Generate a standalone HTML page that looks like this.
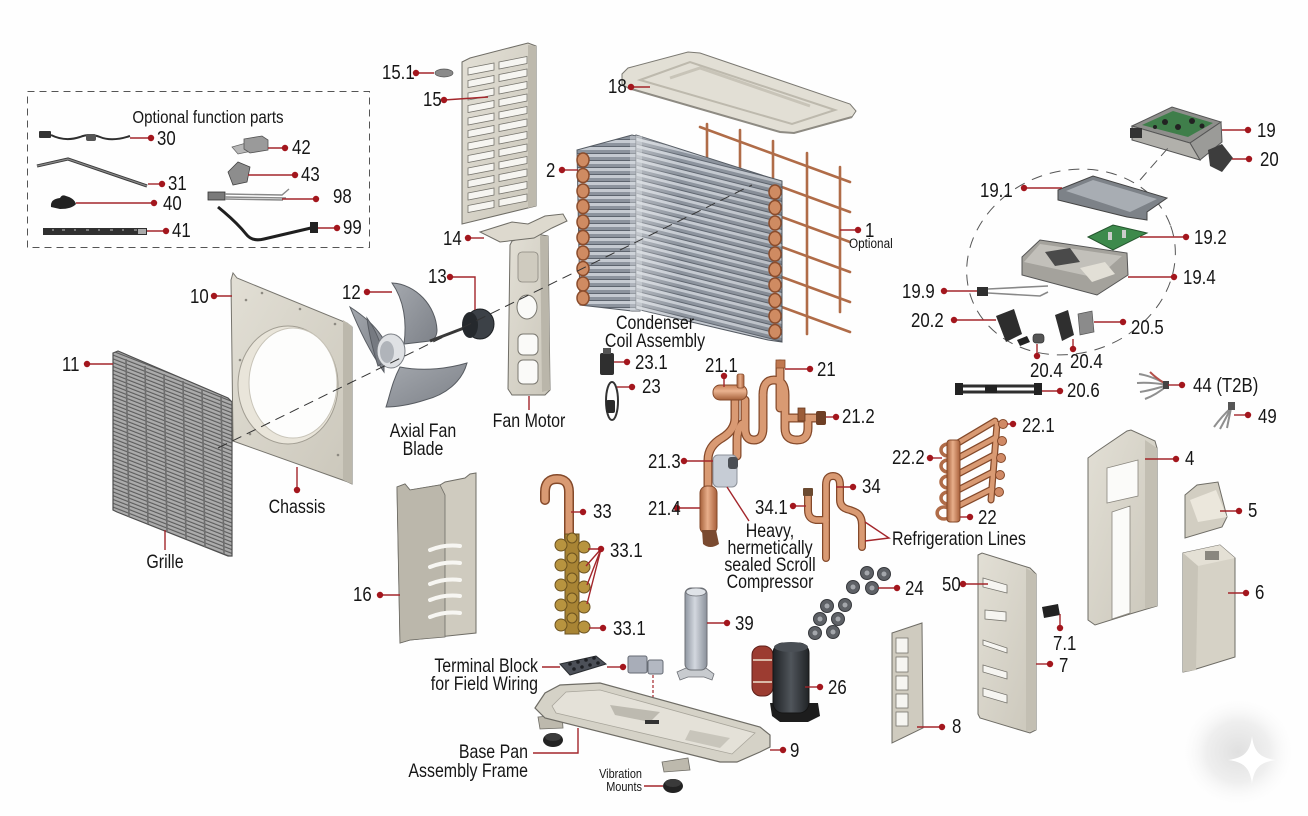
<!DOCTYPE html>
<html><head><meta charset="utf-8">
<style>
html,body{margin:0;padding:0;background:#fefefe;}
svg{display:block}
text{font-family:"Liberation Sans",Arial,sans-serif;fill:#161616;transform-box:fill-box;transform-origin:0% 50%;transform:scaleX(.84)}
text.m{text-anchor:middle;transform-origin:50% 50%}
text.e{text-anchor:end;transform-origin:100% 50%}
.n{font-size:20px}
.t{font-size:19px}
.l{stroke:#a3262b;stroke-width:1.4;fill:none}
.d{fill:#a3161d}
.bp{stroke:#6f6d66;stroke-width:1}
.sl{fill:#f6f5f1;stroke:#77756e;stroke-width:.8}
</style></head><body>
<svg width="1308" height="816" viewBox="0 0 1308 816" xmlns="http://www.w3.org/2000/svg">
<defs>
<linearGradient id="beige" x1="0" y1="0" x2="1" y2="1"><stop offset="0" stop-color="#e2dfd5"/><stop offset="1" stop-color="#cbc7bb"/></linearGradient>
<linearGradient id="cuH" x1="0" y1="0" x2="1" y2="0"><stop offset="0" stop-color="#a5603a"/><stop offset=".45" stop-color="#e8ae8a"/><stop offset="1" stop-color="#a85f3a"/></linearGradient>
<linearGradient id="cuV" x1="0" y1="0" x2="0" y2="1"><stop offset="0" stop-color="#c98058"/><stop offset=".4" stop-color="#eab390"/><stop offset="1" stop-color="#a5603a"/></linearGradient>
<linearGradient id="silver" x1="0" y1="0" x2="1" y2="0"><stop offset="0" stop-color="#8f96a1"/><stop offset=".45" stop-color="#d3d8df"/><stop offset="1" stop-color="#8a909a"/></linearGradient>
<linearGradient id="blk" x1="0" y1="0" x2="1" y2="0"><stop offset="0" stop-color="#1e2124"/><stop offset=".5" stop-color="#50555b"/><stop offset="1" stop-color="#202326"/></linearGradient>
<linearGradient id="coilhl" x1="0" y1="0" x2="1" y2="0"><stop offset="0" stop-color="#fff" stop-opacity=".35"/><stop offset=".3" stop-color="#fff" stop-opacity="0"/><stop offset="1" stop-color="#000" stop-opacity=".08"/></linearGradient>
<linearGradient id="fanG" x1="0" y1="0" x2="1" y2="1"><stop offset="0" stop-color="#a4a8ae"/><stop offset="1" stop-color="#7d8188"/></linearGradient>
<radialGradient id="wm" cx=".5" cy=".5" r=".5"><stop offset="0" stop-color="#e0e0e0"/><stop offset=".55" stop-color="#efefef"/><stop offset="1" stop-color="#fefefe" stop-opacity="0"/></radialGradient>
<pattern id="slat" width="6" height="3.8" patternUnits="userSpaceOnUse" patternTransform="skewY(21.3)"><rect width="6" height="3.8" fill="#ababab"/><rect y="2.6" width="6" height="1.2" fill="#5c5c5c"/></pattern>
<pattern id="finR" width="10" height="7" patternUnits="userSpaceOnUse" patternTransform="skewY(14)"><rect width="10" height="7" fill="#8c939d"/><rect width="10" height="3" fill="#c5cad1"/><rect y="6" width="10" height="1" fill="#5d646e"/></pattern>
<pattern id="finL" width="10" height="7" patternUnits="userSpaceOnUse"><rect width="10" height="7" fill="#8c939d"/><rect width="10" height="3" fill="#c5cad1"/><rect y="6" width="10" height="1" fill="#5d646e"/></pattern>
<polygon id="sL" class="sl" points="468,68 494,63 494,70 468,75"/>
<polygon id="sR" class="sl" points="499,62 527,56.5 527,63.5 499,69"/>
<g id="cu21">
<path d="M745,400 V428 Q745,440 754,440 Q763,440 763,428 V395"/>
<path d="M763,395 Q763,380 774,380 Q785,380 785,395 V428 Q785,440 797,440 Q808,440 808,428 V418"/>
<path d="M780,364 V408"/>
<path d="M786,418 H818"/>
<path d="M735,400 V418 Q735,430 722,438 Q708,446 708,460 V490"/>
<path d="M737,456 V440 Q737,430 742,424"/>
</g>
<g id="cu34">
<path d="M826,558 V485 Q826,476 833,476 Q840,476 840,485 V500 Q840,508 850,510 L855,512 Q862,515 862,525 V547"/>
<path d="M808,496 V510 Q808,519 816,520 H826"/>
</g>
<g id="cu22">
<path d="M953,446 L995,421"/>
<path d="M997,424 L991,500"/>
<path d="M958,458 L995,438"/>
<path d="M958,474 L994,455"/>
<path d="M958,490 L993,472"/>
<path d="M958,506 L992,489"/>
</g>
</defs>
<rect width="1308" height="816" fill="#fefefe"/>

<!-- watermark -->
<ellipse cx="1238" cy="752" rx="58" ry="56" fill="url(#wm)"/>
<path d="M1252,736 C1254,752 1260,758 1276,760 C1260,762 1254,768 1252,784 C1250,768 1244,762 1228,760 C1244,758 1250,752 1252,736 Z" fill="#ffffff"/>

<!-- Optional box -->
<rect x="27.5" y="91.5" width="342" height="156" fill="none" stroke="#555" stroke-dasharray="7 5" stroke-width="1"/>
<text x="208" y="123" class="m" font-size="18">Optional function parts</text>
<!-- 30 -->
<rect x="39" y="131" width="12" height="7" fill="#333" rx="1"/>
<path d="M51,135 Q65,142 80,137 Q90,133 100,137 Q112,142 130,136" stroke="#2f2f2f" stroke-width="2" fill="none"/>
<rect x="86" y="134" width="10" height="7" rx="2" fill="#555"/>
<line class="l" x1="130" y1="138" x2="151" y2="138"/><circle class="d" cx="151" cy="138" r="3.2"/>
<text x="157" y="145" class="n">30</text>
<!-- 31 -->
<path d="M37,166 L68,159 L147,186" stroke="#3c3c3c" stroke-width="3.2" fill="none"/>
<path d="M37,166 L68,159 L147,186" stroke="#8a8a8a" stroke-width="1.2" fill="none"/>
<line class="l" x1="148" y1="184" x2="162" y2="184"/><circle class="d" cx="162" cy="184" r="3.2"/>
<text x="168" y="190" class="n">31</text>
<!-- 40 -->
<path d="M51,207 Q50,199 60,198 Q62,194 66,196 Q74,198 76,204 Q72,209 60,209 Z" fill="#222"/>
<line class="l" x1="76" y1="203" x2="154" y2="203"/><circle class="d" cx="154" cy="203" r="3.2"/>
<text x="163" y="210" class="n">40</text>
<!-- 41 -->
<rect x="43" y="228" width="104" height="7" fill="#303030"/>
<path d="M52,230 h2 M62,230 h3 M74,230 h2 M86,230 h3 M98,230 h2 M110,230 h3 M122,230 h2 M134,230 h3" stroke="#bbb" stroke-width="1"/>
<rect x="138" y="229" width="8" height="5" fill="#aaa"/>
<line class="l" x1="147" y1="231" x2="166" y2="231"/><circle class="d" cx="166" cy="231" r="3.2"/>
<text x="172" y="237" class="n">41</text>
<!-- 42 -->
<polygon points="232,147 246,143 252,151 238,154" fill="#b8b8b8" stroke="#666" stroke-width=".7"/>
<polygon points="244,139 262,136 268,140 268,150 250,153 244,149" fill="#9a9a9a" stroke="#555" stroke-width=".8"/>
<line class="l" x1="268" y1="148" x2="285" y2="148"/><circle class="d" cx="285" cy="148" r="3.2"/>
<text x="292" y="154" class="n">42</text>
<!-- 43 -->
<polygon points="228,172 238,162 250,167 247,182 233,185" fill="#8d8d8d" stroke="#444" stroke-width=".8"/>
<line class="l" x1="248" y1="175" x2="295" y2="175"/><circle class="d" cx="295" cy="175" r="3.2"/>
<text x="301" y="181" class="n">43</text>
<!-- 98 -->
<rect x="208" y="192" width="17" height="8" fill="#7a7a7a" stroke="#333" stroke-width=".8"/>
<path d="M225,194 L282,195 L289,189 M225,197 L286,198 M225,199 L283,200" stroke="#888" stroke-width="1.4" fill="none"/>
<line class="l" x1="282" y1="199" x2="316" y2="199"/><circle class="d" cx="316" cy="199" r="3.2"/>
<text x="333" y="203" class="n">98</text>
<!-- 99 -->
<path d="M218,207 L224,212 Q238,224 246,234 Q252,242 264,239 L311,228" stroke="#1f1f1f" stroke-width="3" fill="none"/>
<rect x="310" y="222" width="8" height="11" fill="#222"/>
<line class="l" x1="318" y1="228" x2="337" y2="228"/><circle class="d" cx="337" cy="228" r="3.2"/>
<text x="343" y="234" class="n">99</text>

<!-- 15.1 / 15 -->
<ellipse cx="444" cy="73" rx="9" ry="4" fill="#8a8a8a" stroke="#555" stroke-width=".7"/>
<line class="l" x1="416" y1="73" x2="434" y2="73"/><circle class="d" cx="416" cy="73" r="3.2"/>
<text x="382" y="79" class="n">15.1</text>
<polygon points="462,62 470,58 528,43 536,46 536,206 462,224" fill="url(#beige)" class="bp"/>
<polygon points="528,45 536,46 536,206 528,208" fill="#bdb9ad"/>
<use href="#sL"/><use href="#sL" y="12.5"/><use href="#sL" y="25"/><use href="#sL" y="37.5"/><use href="#sL" y="50"/><use href="#sL" y="62.5"/><use href="#sL" y="75"/><use href="#sL" y="87.5"/><use href="#sL" y="100"/><use href="#sL" y="112.5"/><use href="#sL" y="125"/><use href="#sL" y="137.5"/>
<use href="#sR"/><use href="#sR" y="12.5"/><use href="#sR" y="25"/><use href="#sR" y="37.5"/><use href="#sR" y="50"/><use href="#sR" y="62.5"/><use href="#sR" y="75"/><use href="#sR" y="87.5"/><use href="#sR" y="100"/><use href="#sR" y="112.5"/><use href="#sR" y="125"/><use href="#sR" y="137.5"/>
<line class="l" x1="444" y1="100" x2="488" y2="97"/><circle class="d" cx="444" cy="100" r="3.2"/>
<text x="423" y="106" class="n">15</text>

<!-- 18 top panel -->
<polygon points="622,74 628,68 688,52 700,53 850,104 856,111 852,117 794,133 780,132 628,88 622,84" fill="#e2dfd5" stroke="#7b7972" stroke-width="1"/>
<polygon points="640,80 690,62 835,110 792,124" fill="none" stroke="#bdb9ad" stroke-width="2"/>
<path d="M670,78 L700,68 L810,106" stroke="#c8c4b8" stroke-width="3" fill="none"/>
<path d="M628,88 L780,132 L794,133 L852,117" stroke="#8e8b83" stroke-width="2" fill="none"/>
<line class="l" x1="631" y1="87" x2="650" y2="87"/><circle class="d" cx="631" cy="87" r="3.2"/>
<text x="608" y="93" class="n">18</text>

<!-- wire grid (1) -->
<g stroke="#b06c48" stroke-width="2.6" stroke-linecap="round">
<line x1="700" y1="127" x2="850" y2="182"/>
<line x1="700" y1="157" x2="850" y2="212"/>
<line x1="700" y1="187" x2="850" y2="242"/>
<line x1="700" y1="217" x2="850" y2="272"/>
<line x1="700" y1="247" x2="850" y2="302"/>
<line x1="700" y1="277" x2="850" y2="332"/>
<line x1="707" y1="124" x2="707" y2="300"/>
<line x1="740" y1="130" x2="740" y2="315"/>
<line x1="773" y1="141" x2="773" y2="330"/>
<line x1="807" y1="153" x2="807" y2="334"/>
<line x1="840" y1="167" x2="840" y2="312"/>
</g>
<line class="l" x1="840" y1="230" x2="858" y2="230"/><circle class="d" cx="858" cy="230" r="3.2"/>
<text x="865" y="237" class="n">1</text>
<text x="849" y="248" font-size="14">Optional</text>

<!-- coil (2) -->
<polygon points="577,150 632,135 640,137 640,311 632,311 580,305" fill="url(#finL)" stroke="#555b63" stroke-width="1"/>
<polygon points="636,135 768,177 782,181 782,342 768,340 636,309" fill="url(#finR)" stroke="#555b63" stroke-width="1"/>
<polygon points="636,135 768,177 782,181 782,342 768,340 636,309" fill="url(#coilhl)"/>
<rect x="630" y="136" width="12" height="175" fill="#d9dde2" opacity=".45"/>
<g fill="#cf8b62" stroke="#8a4c2c" stroke-width="1.5">
<ellipse cx="583" cy="160" rx="6" ry="7"/><ellipse cx="583" cy="175.5" rx="6" ry="7"/><ellipse cx="583" cy="191" rx="6" ry="7"/><ellipse cx="583" cy="206.5" rx="6" ry="7"/><ellipse cx="583" cy="222" rx="6" ry="7"/><ellipse cx="583" cy="237.5" rx="6" ry="7"/><ellipse cx="583" cy="253" rx="6" ry="7"/><ellipse cx="583" cy="268.5" rx="6" ry="7"/><ellipse cx="583" cy="284" rx="6" ry="7"/><ellipse cx="583" cy="298" rx="6" ry="7"/>
<ellipse cx="775" cy="192" rx="6" ry="7"/><ellipse cx="775" cy="207.5" rx="6" ry="7"/><ellipse cx="775" cy="223" rx="6" ry="7"/><ellipse cx="775" cy="238.5" rx="6" ry="7"/><ellipse cx="775" cy="254" rx="6" ry="7"/><ellipse cx="775" cy="269.5" rx="6" ry="7"/><ellipse cx="775" cy="285" rx="6" ry="7"/><ellipse cx="775" cy="300.5" rx="6" ry="7"/><ellipse cx="775" cy="316" rx="6" ry="7"/><ellipse cx="775" cy="331.5" rx="6" ry="7"/>
</g>
<line class="l" x1="562" y1="170" x2="578" y2="170"/><circle class="d" cx="562" cy="170" r="3.2"/>
<text x="546" y="177" class="n">2</text>
<text x="655" y="329" class="t m">Condenser</text>
<text x="655" y="347" class="t m">Coil Assembly</text>

<!-- grille (11) -->
<polygon points="113,353 118,351 228,398 232,402 232,556 228,556 117,512 113,510" fill="url(#slat)" stroke="#4f4f4f" stroke-width="1.2"/>
<g stroke="#6e6e6e" stroke-width="1.6">
<line x1="126" y1="359" x2="129" y2="517"/><line x1="145" y1="366" x2="148" y2="524"/><line x1="164" y1="374" x2="167" y2="532"/><line x1="183" y1="381" x2="186" y2="539"/><line x1="202" y1="389" x2="205" y2="547"/><line x1="221" y1="396" x2="224" y2="554"/>
</g>
<line class="l" x1="87" y1="364" x2="113" y2="364"/><circle class="d" cx="87" cy="364" r="3.2"/>
<text x="62" y="371" class="n">11</text>
<line class="l" x1="165" y1="530" x2="165" y2="550"/>
<text x="165" y="568" class="t m">Grille</text>

<!-- chassis (10) -->
<polygon points="231,280 233,273 237,278 347,323 352,327 352,484 348,482 233,441" fill="url(#beige)" stroke="#77756e" stroke-width="1"/>
<polygon points="343,320 352,326 352,484 343,480" fill="#bcb8ac"/>
<ellipse cx="288" cy="385" rx="50" ry="59" fill="#e9e5da" stroke="#a19d92" stroke-width="1"/>
<ellipse cx="293" cy="383" rx="44" ry="55" fill="#fdfdfc" stroke="#c8c4b8" stroke-width="1"/>
<g fill="#8d8a82"><circle cx="246" cy="300" r="1.3"/><circle cx="262" cy="293" r="1.3"/><circle cx="300" cy="309" r="1.3"/><circle cx="335" cy="324" r="1.3"/><circle cx="338" cy="455" r="1.3"/><circle cx="250" cy="434" r="1.3"/><circle cx="240" cy="360" r="1.3"/></g>
<line class="l" x1="214" y1="296" x2="232" y2="296"/><circle class="d" cx="214" cy="296" r="3.2"/>
<text x="190" y="303" class="n">10</text>
<line class="l" x1="297" y1="467" x2="297" y2="490"/><circle class="d" cx="297" cy="490" r="3.2"/>
<text x="297" y="513" class="t m">Chassis</text>

<!-- fan blade (12) -->
<g fill="url(#fanG)" stroke="#575b61" stroke-width="1">
<path d="M392,283 C416,284 436,306 437,330 C437,336 434,340 430,341 L404,344 C407,322 404,300 392,283 Z"/>
<path d="M350,307 C364,316 376,326 384,340 L384,372 C370,352 360,332 350,307 Z"/>
<path d="M367,318 C376,330 382,345 384,362 L378,366 C373,350 369,335 367,318 Z" fill="#767a81"/>
<path d="M400,367 C425,372 450,368 467,363 C462,382 445,395 425,400 C410,405 395,407 386,407 C390,395 392,382 400,367 Z"/>
</g>
<ellipse cx="391" cy="351" rx="14" ry="17" fill="#dfe1e4" stroke="#7a7e84" stroke-width="1"/>
<ellipse cx="387" cy="352" rx="7" ry="11" fill="#b0b4ba"/>
<line class="l" x1="367" y1="292" x2="392" y2="292"/><circle class="d" cx="367" cy="292" r="3.2"/>
<text x="342" y="299" class="n">12</text>
<text x="423" y="437" class="t m">Axial Fan</text>
<text x="423" y="455" class="t m">Blade</text>

<!-- motor (13) -->
<line x1="464" y1="328" x2="430" y2="341" stroke="#3a3a3a" stroke-width="3"/>
<ellipse cx="480" cy="324" rx="14" ry="15" fill="#3c4147" stroke="#1d2023" stroke-width="1"/>
<ellipse cx="470" cy="325" rx="8" ry="13" fill="#25292d"/>
<path class="l" d="M450,277 H475 V310"/><circle class="d" cx="450" cy="277" r="3.2"/>
<text x="428" y="283" class="n">13</text>

<!-- bracket (14) -->
<polygon points="512,241 536,234 548,236 550,390 545,395 512,395 508,389 510,245" fill="url(#beige)" stroke="#6f6d66" stroke-width="1"/>
<polygon points="540,236 548,236 550,390 542,392" fill="#bab6aa"/>
<polygon points="480,232 512,222 528,224 545,216 563,214 567,221 552,228 534,238 500,242" fill="#ddd9ce" stroke="#6f6d66" stroke-width="1"/>
<ellipse cx="527" cy="307" rx="10" ry="12" fill="#fafaf8" stroke="#7a7870" stroke-width="1"/>
<rect x="518" y="334" width="20" height="21" rx="5" fill="#fafaf8" stroke="#7a7870" stroke-width="1"/>
<rect x="518" y="360" width="20" height="24" rx="5" fill="#fafaf8" stroke="#7a7870" stroke-width="1"/>
<rect x="518" y="252" width="20" height="30" rx="4" fill="#cfcbbf" stroke="#8a877f" stroke-width=".8"/>
<line class="l" x1="468" y1="238" x2="484" y2="238"/><circle class="d" cx="468" cy="238" r="3.2"/>
<text x="443" y="245" class="n">14</text>
<line class="l" x1="529" y1="396" x2="529" y2="410"/>
<text x="529" y="427" class="t m">Fan Motor</text>

<!-- dashed axis -->
<line x1="218" y1="448" x2="752" y2="185" stroke="#333" stroke-width="1" stroke-dasharray="10 6"/>

<!-- 23.1 / 23 -->
<rect x="600" y="353" width="14" height="22" rx="2" fill="#2f2f2f"/>
<rect x="603" y="348" width="8" height="6" fill="#555"/>
<ellipse cx="612" cy="401" rx="6" ry="19" fill="none" stroke="#333" stroke-width="2"/>
<rect x="606" y="400" width="9" height="13" rx="2" fill="#2a2a2a"/>
<line class="l" x1="614" y1="362" x2="627" y2="362"/><circle class="d" cx="627" cy="362" r="3.2"/>
<text x="635" y="369" class="n">23.1</text>
<line class="l" x1="617" y1="387" x2="632" y2="387"/><circle class="d" cx="632" cy="387" r="3.2"/>
<text x="642" y="393" class="n">23</text>

<!-- 21 assembly -->
<use href="#cu21" stroke="#84492a" stroke-width="9" fill="none" stroke-linecap="round" stroke-linejoin="round"/>
<use href="#cu21" stroke="#d99a73" stroke-width="6.5" fill="none" stroke-linecap="round" stroke-linejoin="round"/>
<rect x="713" y="385" width="34" height="15" rx="7" fill="url(#cuV)" stroke="#84492a" stroke-width="1"/>
<rect x="737" y="374" width="7" height="14" rx="2" fill="url(#cuH)" stroke="#84492a" stroke-width=".8"/>
<rect x="776" y="360" width="9" height="8" fill="#c07850" stroke="#84492a" stroke-width=".8"/>
<rect x="798" y="408" width="7" height="13" fill="#9b5c38" stroke="#6a3a20" stroke-width=".8"/>
<rect x="816" y="411" width="10" height="14" rx="2" fill="#6e3f25"/>
<rect x="700" y="486" width="17" height="48" rx="7" fill="url(#cuH)" stroke="#84492a" stroke-width="1"/>
<path d="M702,530 H716 L719,544 Q710,550 703,544 Z" fill="#7a4a30"/>
<rect x="713" y="455" width="24" height="32" rx="5" fill="#c0c7d0" fill-opacity=".9" stroke="#8c9199" stroke-width="1"/>
<rect x="728" y="457" width="10" height="12" rx="3" fill="#4b4f55"/>
<line class="l" x1="724" y1="376" x2="724" y2="387"/><circle class="d" cx="724" cy="376" r="3.2"/>
<text x="705" y="372" class="n">21.1</text>
<line class="l" x1="785" y1="369" x2="810" y2="369"/><circle class="d" cx="810" cy="369" r="3.2"/>
<text x="817" y="376" class="n">21</text>
<line class="l" x1="826" y1="417" x2="836" y2="417"/><circle class="d" cx="836" cy="417" r="3.2"/>
<text x="842" y="423" class="n">21.2</text>
<line class="l" x1="684" y1="461" x2="713" y2="461"/><circle class="d" cx="684" cy="461" r="3.2"/>
<text x="648" y="468" class="n">21.3</text>
<line class="l" x1="677" y1="508" x2="700" y2="508"/><circle class="d" cx="677" cy="508" r="3.2"/>
<text x="648" y="515" class="n">21.4</text>
<line class="l" x1="727" y1="487" x2="749" y2="521"/>
<text x="770" y="537" class="t m">Heavy,</text>
<text x="770" y="554" class="t m">hermetically</text>
<text x="770" y="571" class="t m">sealed Scroll</text>
<text x="770" y="588" class="t m">Compressor</text>

<!-- 34 -->
<use href="#cu34" stroke="#84492a" stroke-width="8" fill="none" stroke-linecap="round" stroke-linejoin="round"/>
<use href="#cu34" stroke="#d99a73" stroke-width="5.5" fill="none" stroke-linecap="round" stroke-linejoin="round"/>
<rect x="803" y="488" width="10" height="8" rx="1" fill="#6b4a30"/>
<line class="l" x1="836" y1="487" x2="853" y2="487"/><circle class="d" cx="853" cy="487" r="3.2"/>
<text x="862" y="493" class="n">34</text>
<line class="l" x1="793" y1="506" x2="806" y2="506"/><circle class="d" cx="793" cy="506" r="3.2"/>
<text x="755" y="514" class="n">34.1</text>
<path class="l" d="M865,522 L889,538 L865,541"/>
<text x="892" y="545" class="t">Refrigeration Lines</text>

<!-- 22 manifold -->
<use href="#cu22" stroke="#84492a" stroke-width="7" fill="none" stroke-linecap="round"/>
<use href="#cu22" stroke="#d99a73" stroke-width="4.5" fill="none" stroke-linecap="round"/>
<g fill="none" stroke="#b06c48" stroke-width="3.5">
<path d="M948,444 a7,6 0 1,0 0,12"/><path d="M948,460 a7,6 0 1,0 0,12"/><path d="M948,476 a7,6 0 1,0 0,12"/><path d="M948,492 a7,6 0 1,0 0,12"/><path d="M948,508 a7,6 0 1,0 0,10"/>
</g>
<rect x="947" y="440" width="13" height="82" rx="3" fill="url(#cuH)" stroke="#84492a" stroke-width="1"/>
<g fill="#d08a66" stroke="#84492a" stroke-width="1">
<circle cx="1003" cy="424" r="4.5"/><circle cx="1002" cy="441" r="4.5"/><circle cx="1001" cy="458" r="4.5"/><circle cx="1000" cy="475" r="4.5"/><circle cx="999" cy="492" r="4.5"/>
</g>
<line class="l" x1="1007" y1="424" x2="1013" y2="424"/><circle class="d" cx="1013" cy="424" r="3.2"/>
<text x="1022" y="432" class="n">22.1</text>
<line class="l" x1="930" y1="458" x2="942" y2="458"/><circle class="d" cx="930" cy="458" r="3.2"/>
<text x="892" y="464" class="n">22.2</text>
<line class="l" x1="960" y1="517" x2="970" y2="517"/><circle class="d" cx="970" cy="517" r="3.2"/>
<text x="978" y="524" class="n">22</text>

<!-- control box 19 / 20 -->
<polygon points="1132,126 1172,107 1221,122 1190,143" fill="#8e8e8b" stroke="#555" stroke-width="1"/>
<polygon points="1142,125 1173,111 1213,123 1188,137" fill="#3f7e4a"/>
<g fill="#222"><circle cx="1165" cy="122" r="3"/><circle cx="1178" cy="127" r="3"/><circle cx="1192" cy="121" r="3"/><circle cx="1202" cy="126" r="2.5"/><circle cx="1155" cy="127" r="2"/></g>
<polygon points="1190,143 1221,122 1222,142 1200,160" fill="#9b9b98" stroke="#555" stroke-width="1"/>
<polygon points="1132,126 1190,143 1200,160 1132,140" fill="#b1b0ab" stroke="#555" stroke-width="1"/>
<rect x="1130" y="128" width="12" height="10" fill="#333"/>
<polygon points="1208,150 1222,144 1233,158 1222,172 1210,166" fill="#3d3d3d"/>
<line class="l" x1="1222" y1="130" x2="1248" y2="130"/><circle class="d" cx="1248" cy="130" r="3.2"/>
<text x="1257" y="137" class="n">19</text>
<line class="l" x1="1232" y1="159" x2="1249" y2="159"/><circle class="d" cx="1249" cy="159" r="3.2"/>
<text x="1260" y="166" class="n">20</text>
<ellipse cx="1071" cy="262" rx="106" ry="91" fill="none" stroke="#555" stroke-width="1" stroke-dasharray="11 8" transform="rotate(-20 1071 262)"/>
<line x1="1140" y1="180" x2="1168" y2="148" stroke="#555" stroke-width="1" stroke-dasharray="10 6"/>
<!-- 19.1 -->
<polygon points="1058,190 1093,176 1167,198 1147,212 1147,220 1127,217 1058,200" fill="#7d8288" stroke="#444" stroke-width="1"/>
<polygon points="1066,191 1093,180 1157,199 1130,212" fill="#a8adb3"/>
<line class="l" x1="1024" y1="188" x2="1062" y2="188"/><circle class="d" cx="1024" cy="188" r="3.2"/>
<text x="980" y="197" class="n">19.1</text>
<!-- 19.2 -->
<polygon points="1088,237 1113,225 1147,233 1113,250" fill="#3d8a4c" stroke="#24542d" stroke-width="1"/>
<g fill="#ccc"><rect x="1108" y="232" width="4" height="8"/><rect x="1122" y="230" width="4" height="8"/></g>
<line class="l" x1="1140" y1="237" x2="1186" y2="237"/><circle class="d" cx="1186" cy="237" r="3.2"/>
<text x="1194" y="244" class="n">19.2</text>
<!-- 19.4 -->
<polygon points="1022,257 1040,240 1127,253 1128,275 1097,295 1022,275" fill="#a4a29c" stroke="#555" stroke-width="1"/>
<polygon points="1040,244 1122,256 1097,278 1024,262" fill="#c2c0ba"/>
<polygon points="1045,252 1070,248 1080,262 1055,266" fill="#4a4a4a"/>
<polygon points="1080,268 1105,262 1115,274 1092,282" fill="#e2dfd6"/>
<line class="l" x1="1128" y1="277" x2="1174" y2="277"/><circle class="d" cx="1174" cy="277" r="3.2"/>
<text x="1183" y="284" class="n">19.4</text>
<!-- 19.9 -->
<rect x="977" y="287" width="11" height="9" fill="#2f2f2f"/>
<path d="M988,289 L1048,286 M988,293 L1040,296 L1048,292" stroke="#888" stroke-width="1.6" fill="none"/>
<line class="l" x1="944" y1="291" x2="977" y2="291"/><circle class="d" cx="944" cy="291" r="3.2"/>
<text x="902" y="298" class="n">19.9</text>
<!-- 20.2 etc -->
<polygon points="996,316 1014,309 1022,334 1006,342" fill="#2d2d2d"/>
<polygon points="1017,340 1027,336 1030,342 1020,346" fill="#222"/>
<rect x="1033" y="334" width="11" height="9" rx="3" fill="#555" stroke="#333" stroke-width=".7"/>
<polygon points="1055,315 1068,310 1074,335 1062,341" fill="#2f2f2f"/>
<polygon points="1078,314 1092,311 1094,332 1080,335" fill="#8b8b8b" stroke="#555" stroke-width=".7"/>
<line class="l" x1="954" y1="320" x2="996" y2="320"/><circle class="d" cx="954" cy="320" r="3.2"/>
<text x="911" y="327" class="n">20.2</text>
<line class="l" x1="1094" y1="322" x2="1123" y2="322"/><circle class="d" cx="1123" cy="322" r="3.2"/>
<text x="1131" y="334" class="n">20.5</text>
<line class="l" x1="1037" y1="344" x2="1037" y2="356"/><circle class="d" cx="1037" cy="356" r="3.2"/>
<text x="1030" y="377" class="n">20.4</text>
<line class="l" x1="1073" y1="339" x2="1073" y2="349"/><circle class="d" cx="1073" cy="349" r="3.2"/>
<text x="1070" y="368" class="n">20.4</text>
<!-- 20.6 -->
<path d="M955,386 H1042 M955,392 H1042" stroke="#2f2f2f" stroke-width="3"/>
<g fill="#222"><rect x="955" y="383" width="8" height="12"/><rect x="1034" y="383" width="8" height="12"/><rect x="985" y="385" width="12" height="8"/></g>
<line class="l" x1="1042" y1="391" x2="1060" y2="391"/><circle class="d" cx="1060" cy="391" r="3.2"/>
<text x="1067" y="397" class="n">20.6</text>
<!-- 44 / 49 -->
<g stroke="#8f8f8f" stroke-width="2" fill="none">
<path d="M1168,385 Q1152,376 1139,374"/><path d="M1168,385 Q1150,382 1137,383"/><path d="M1168,385 Q1152,390 1140,392"/><path d="M1168,385 Q1156,395 1145,399"/>
</g>
<path d="M1168,385 Q1158,380 1150,372" stroke="#b4504a" stroke-width="2" fill="none"/>
<rect x="1163" y="381" width="6" height="8" fill="#444"/>
<line class="l" x1="1168" y1="385" x2="1182" y2="385"/><circle class="d" cx="1182" cy="385" r="3.2"/>
<text x="1193" y="392" class="n">44 (T2B)</text>
<g stroke="#8f8f8f" stroke-width="2" fill="none"><path d="M1231,408 Q1222,416 1214,427"/><path d="M1231,408 Q1226,418 1220,429"/><path d="M1231,408 Q1229,418 1227,428"/></g>
<rect x="1228" y="402" width="7" height="8" fill="#555"/>
<line class="l" x1="1234" y1="415" x2="1248" y2="415"/><circle class="d" cx="1248" cy="415" r="3.2"/>
<text x="1258" y="423" class="n">49</text>

<!-- 4 -->
<polygon points="1088,458 1096,452 1127,431 1131,430 1155,441 1157,448 1157,606 1130,614 1095,625 1088,620" fill="url(#beige)" stroke="#6f6d66" stroke-width="1"/>
<polygon points="1145,440 1157,448 1157,606 1145,609" fill="#c3bfb3"/>
<polygon points="1107,468 1138,460 1138,496 1107,503" fill="#fbfbf9" stroke="#8a877f" stroke-width=".8"/>
<polygon points="1112,512 1130,506 1130,613 1112,619" fill="#fbfbf9" stroke="#8a877f" stroke-width=".8"/>
<line class="l" x1="1145" y1="459" x2="1176" y2="459"/><circle class="d" cx="1176" cy="459" r="3.2"/>
<text x="1185" y="465" class="n">4</text>
<!-- 5 -->
<polygon points="1185,495 1197,485 1218,482 1227,517 1222,527 1185,538" fill="#d2cec2" stroke="#6f6d66" stroke-width="1"/>
<polygon points="1190,500 1216,490 1227,517 1198,522" fill="#ebe7dc"/>
<line class="l" x1="1220" y1="511" x2="1239" y2="511"/><circle class="d" cx="1239" cy="511" r="3.2"/>
<text x="1248" y="517" class="n">5</text>
<!-- 6 -->
<polygon points="1183,553 1220,545 1235,558 1235,657 1193,670 1183,672" fill="#d6d2c6" stroke="#6f6d66" stroke-width="1"/>
<polygon points="1183,553 1220,545 1235,558 1198,566" fill="#e4e0d5"/>
<polygon points="1183,553 1198,566 1196,670 1183,672" fill="#c8c4b8"/>
<rect x="1205" y="551" width="14" height="9" fill="#8a877f"/>
<line class="l" x1="1228" y1="593" x2="1246" y2="593"/><circle class="d" cx="1246" cy="593" r="3.2"/>
<text x="1255" y="599" class="n">6</text>
<!-- 7 / 50 -->
<polygon points="978,555 982,553 1030,568 1036,574 1036,730 1030,733 980,718 978,714" fill="url(#beige)" stroke="#6f6d66" stroke-width="1"/>
<polygon points="1026,568 1036,574 1036,730 1026,731" fill="#c3bfb3"/>
<g class="sl"><polygon points="983,578 1007,585 1007,593 983,587"/><polygon points="985,610 1006,612 1006,621 985,619"/><polygon points="983,640 1007,648 1007,653 983,645"/><polygon points="983,665 1007,672 1007,679 983,672"/><polygon points="983,688 1007,695 1007,703 983,696"/></g>
<line class="l" x1="963" y1="584" x2="988" y2="584"/><circle class="d" cx="963" cy="584" r="3.2"/>
<text x="942" y="591" class="n">50</text>
<line class="l" x1="1036" y1="664" x2="1050" y2="664"/><circle class="d" cx="1050" cy="664" r="3.2"/>
<text x="1059" y="672" class="n">7</text>
<polygon points="1042,607 1058,604 1060,615 1044,618" fill="#222"/>
<line class="l" x1="1060" y1="614" x2="1060" y2="628"/><circle class="d" cx="1060" cy="628" r="3.2"/>
<text x="1053" y="650" class="n">7.1</text>
<!-- 8 -->
<polygon points="892,633 922,623 923,728 892,743" fill="#cfcbbf" stroke="#6f6d66" stroke-width="1"/>
<g class="sl"><rect x="896" y="638" width="12" height="15"/><rect x="896" y="657" width="12" height="15"/><rect x="896" y="676" width="12" height="14"/><rect x="896" y="694" width="12" height="14"/><rect x="896" y="712" width="12" height="14"/></g>
<line class="l" x1="917" y1="727" x2="942" y2="727"/><circle class="d" cx="942" cy="727" r="3.2"/>
<text x="952" y="733" class="n">8</text>

<!-- 24 grommets -->
<g fill="#5e6166" stroke="#36383c" stroke-width="1">
<circle cx="867" cy="573" r="6.5"/><circle cx="884" cy="574" r="6.5"/><circle cx="853" cy="587" r="6.5"/><circle cx="872" cy="588" r="6.5"/><circle cx="827" cy="606" r="6.5"/><circle cx="845" cy="605" r="6.5"/><circle cx="820" cy="619" r="6.5"/><circle cx="838" cy="619" r="6.5"/><circle cx="815" cy="633" r="6.5"/><circle cx="833" cy="632" r="6.5"/>
</g>
<g fill="#a3a6ab"><circle cx="867" cy="573" r="2.5"/><circle cx="884" cy="574" r="2.5"/><circle cx="853" cy="587" r="2.5"/><circle cx="872" cy="588" r="2.5"/><circle cx="827" cy="606" r="2.5"/><circle cx="845" cy="605" r="2.5"/><circle cx="820" cy="619" r="2.5"/><circle cx="838" cy="619" r="2.5"/><circle cx="815" cy="633" r="2.5"/><circle cx="833" cy="632" r="2.5"/></g>
<line class="l" x1="878" y1="588" x2="897" y2="588"/><circle class="d" cx="897" cy="588" r="3.2"/>
<text x="905" y="595" class="n">24</text>

<!-- 26 compressor -->
<rect x="752" y="646" width="21" height="50" rx="9" fill="#9c3c31" stroke="#5e1f19" stroke-width="1"/>
<path d="M753,660 H772 M753,682 H772" stroke="#d9b9a8" stroke-width="2"/>
<path d="M770,703 H818 L820,716 L808,722 H780 L772,716 Z" fill="#1d1d1d"/>
<rect x="773" y="643" width="36" height="70" rx="10" fill="url(#blk)" stroke="#151515" stroke-width="1"/>
<ellipse cx="791" cy="647" rx="17" ry="5" fill="#4a4f55"/>
<line class="l" x1="805" y1="687" x2="820" y2="687"/><circle class="d" cx="820" cy="687" r="3.2"/>
<text x="828" y="694" class="n">26</text>

<!-- 39 -->
<path d="M677,672 L686,668 H706 L714,674 L712,680 L704,677 H688 L680,680 Z" fill="#c8cbcf" stroke="#6d7076" stroke-width=".8"/>
<rect x="685" y="588" width="22" height="82" rx="6" fill="url(#silver)" stroke="#6d7076" stroke-width="1"/>
<ellipse cx="696" cy="592" rx="10" ry="4" fill="#dfe3e8" stroke="#6d7076" stroke-width=".8"/>
<line class="l" x1="707" y1="623" x2="727" y2="623"/><circle class="d" cx="727" cy="623" r="3.2"/>
<text x="735" y="630" class="n">39</text>

<!-- 33 -->
<path d="M569,538 V492 Q569,479 557,479 Q545,479 545,492 V500" stroke="#84492a" stroke-width="10" fill="none" stroke-linecap="round"/>
<path d="M569,538 V492 Q569,479 557,479 Q545,479 545,492 V500" stroke="#d99a73" stroke-width="7" fill="none" stroke-linecap="round"/>
<rect x="565" y="534" width="14" height="100" fill="#a88434" stroke="#6b5220" stroke-width="1"/>
<g fill="#b8943f" stroke="#6b5220" stroke-width="1">
<circle cx="561" cy="545" r="6"/><circle cx="584" cy="547" r="6"/><circle cx="572" cy="538" r="5"/>
<circle cx="561" cy="565" r="6"/><circle cx="584" cy="567" r="6"/><circle cx="572" cy="558" r="5"/>
<circle cx="561" cy="585" r="6"/><circle cx="584" cy="587" r="6"/><circle cx="572" cy="578" r="5"/>
<circle cx="561" cy="605" r="6"/><circle cx="584" cy="607" r="6"/><circle cx="572" cy="598" r="5"/>
<circle cx="561" cy="625" r="6"/><circle cx="584" cy="627" r="6"/><circle cx="572" cy="618" r="5"/>
</g>
<line class="l" x1="571" y1="512" x2="583" y2="512"/><circle class="d" cx="583" cy="512" r="3.2"/>
<text x="593" y="518" class="n">33</text>
<path class="l" d="M601,549 L588,549 M601,549 L586,566 M601,549 L587,585 M601,549 L587,604"/><circle class="d" cx="601" cy="549" r="3.2"/>
<text x="610" y="557" class="n">33.1</text>
<line class="l" x1="589" y1="628" x2="603" y2="628"/><circle class="d" cx="603" cy="628" r="3.2"/>
<text x="613" y="635" class="n">33.1</text>

<!-- 16 -->
<polygon points="397,487 405,484 410,490 440,485 445,482 465,478 470,474 476,473 476,633 410,640 400,643" fill="#cfcbbf" stroke="#6f6d66" stroke-width="1"/>
<polygon points="397,487 405,484 410,490 440,485 445,495 445,637 410,640 400,643" fill="#bbb7ab" stroke="#6f6d66" stroke-width=".8"/>
<g fill="none" stroke="#f7f6f2" stroke-width="4" stroke-linecap="round">
<path d="M430,550 Q445,544 460,546"/><path d="M430,567 Q445,561 460,563"/><path d="M430,584 Q445,578 460,580"/><path d="M430,600 Q445,594 460,596"/><path d="M430,617 Q445,611 460,613"/>
</g>
<line class="l" x1="380" y1="595" x2="400" y2="595"/><circle class="d" cx="380" cy="595" r="3.2"/>
<text x="353" y="601" class="n">16</text>

<!-- terminal block / base pan -->
<polygon points="560,664 596,656 606,664 570,675" fill="#4c5058" stroke="#2a2d31" stroke-width="1"/>
<g fill="#1e2024"><circle cx="570" cy="664" r="1.8"/><circle cx="578" cy="662" r="1.8"/><circle cx="586" cy="660" r="1.8"/><circle cx="594" cy="658" r="1.8"/><circle cx="574" cy="669" r="1.8"/><circle cx="582" cy="667" r="1.8"/><circle cx="590" cy="665" r="1.8"/><circle cx="598" cy="663" r="1.8"/></g>
<rect x="628" y="656" width="19" height="17" rx="2" fill="#a8adb8" stroke="#666b74" stroke-width="1"/>
<rect x="648" y="660" width="15" height="14" rx="2" fill="#b3b8c2" stroke="#666b74" stroke-width="1"/>
<line class="l" x1="542" y1="667" x2="560" y2="667"/>
<line class="l" x1="607" y1="667" x2="623" y2="667"/><circle class="d" cx="623" cy="667" r="3.2"/>
<text x="538" y="672" class="t e">Terminal Block</text>
<text x="538" y="690" class="t e">for Field Wiring</text>
<line x1="653" y1="675" x2="653" y2="725" stroke="#a3262b" stroke-width="1.2" stroke-dasharray="3 2"/>
<polygon points="538,717 562,715 563,728 540,729" fill="#bdb9ad" stroke="#6f6d66" stroke-width=".8"/>
<polygon points="662,762 688,758 690,770 664,772" fill="#bdb9ad" stroke="#6f6d66" stroke-width=".8"/>
<polygon points="535,708 545,693 560,685 600,683 760,727 770,735 770,747 760,752 737,762 720,762 545,718" fill="#d5d2c7" stroke="#6e6c65" stroke-width="1.2"/>
<polygon points="552,706 566,692 600,690 755,733 732,754 556,713" fill="#e4e1d8" stroke="#a8a59b" stroke-width=".8"/>
<polygon points="610,705 660,712 650,722 615,715" fill="#bdbab0"/>
<polygon points="690,730 730,738 720,748 685,740" fill="#c8c5bb"/>
<rect x="645" y="720" width="14" height="4" fill="#333"/>
<ellipse cx="553" cy="740" rx="10" ry="7" fill="#222"/>
<ellipse cx="553" cy="737" rx="8" ry="4" fill="#3a3a3a"/>
<ellipse cx="673" cy="786" rx="10" ry="7" fill="#222"/>
<ellipse cx="673" cy="783" rx="8" ry="4" fill="#3a3a3a"/>
<path class="l" d="M533,753 H578 V728"/>
<text x="528" y="758" class="t e">Base Pan</text>
<text x="528" y="777" class="t e">Assembly Frame</text>
<line class="l" x1="770" y1="750" x2="783" y2="750"/><circle class="d" cx="783" cy="750" r="3.2"/>
<text x="790" y="757" class="n">9</text>
<line class="l" x1="644" y1="786" x2="663" y2="786"/>
<text x="642" y="778" class="e" font-size="13">Vibration</text>
<text x="642" y="791" class="e" font-size="13">Mounts</text>
</svg>
</body></html>
